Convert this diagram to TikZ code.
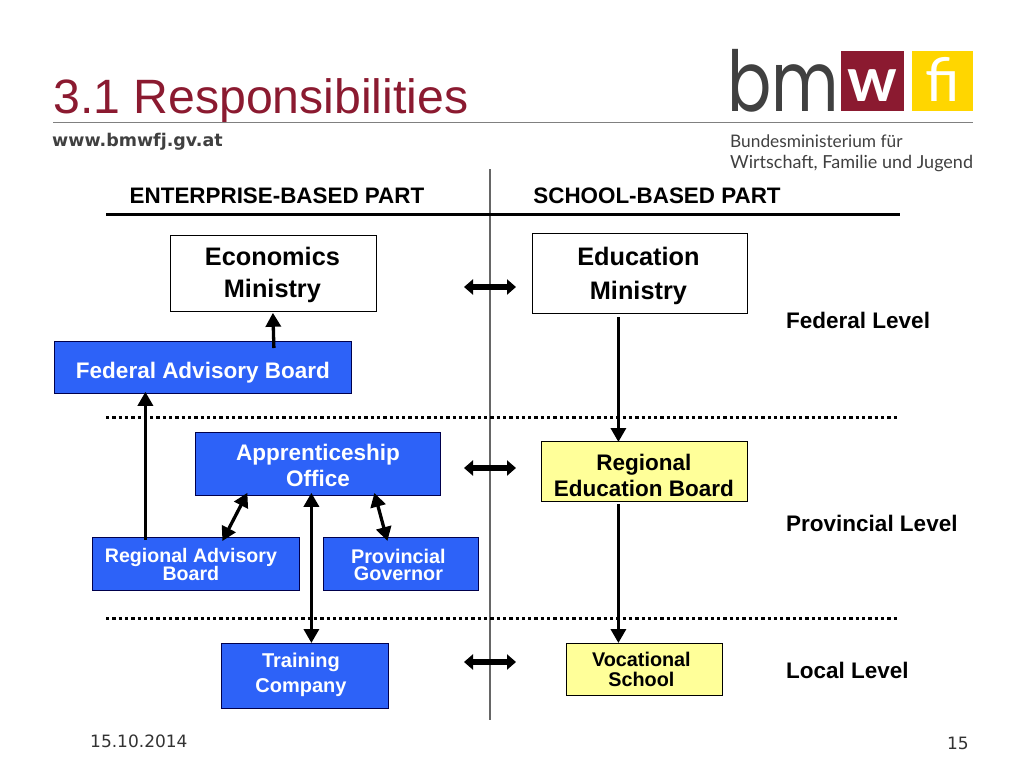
\documentclass[tikz,border=0pt]{standalone}
\usepackage{fontspec}
\setmainfont{Liberation Sans}
\newfontfamily\dejavu{DejaVu Sans}
\newfontfamily\lato{Lato}
\newfontfamily\poppins{Poppins}
\usetikzlibrary{arrows.meta}
\definecolor{bmred}{RGB}{139,26,48}
\definecolor{bmyellow}{RGB}{255,214,0}
\definecolor{boxblue}{RGB}{45,98,248}
\definecolor{paleyellow}{RGB}{255,255,153}
\definecolor{logogrey}{RGB}{64,64,64}
% moves the text of a box away from its centre
\newcommand\nudge[3]{\makebox[0pt]{\kern#1\kern#1\raisebox{\dimexpr#2-0.25em\relax}[0pt][0pt]{\begin{tabular}{@{}c@{}}#3\end{tabular}}}}
\tikzset{
  box/.style={draw=#1,line width=0.8pt,anchor=north west,align=center,inner sep=0pt,font=\bfseries},
  whitebox/.style={box=black,fill=white,text=black},
  bluebox/.style={box=black!70!blue,fill=boxblue,text=white},
  yellowbox/.style={box=black,fill=paleyellow,text=black},
  flow/.style={line width=3.3pt,-{Triangle[length=14pt,width=15pt]}},
  both/.style={line width=3.3pt,{Triangle[length=14pt,width=15pt]}-{Triangle[length=14pt,width=15pt]}},
  cross/.style={line width=6.5pt,{Triangle[length=9pt,width=15pt]}-{Triangle[length=9pt,width=15pt]}},
  level/.style={font=\bfseries\fontsize{22.5}{26}\selectfont,anchor=west,inner sep=0pt},
  levelline/.style={line width=3pt,dash pattern=on 3.3pt off 3pt},
}
\begin{document}
\begin{tikzpicture}[x=1pt,y=-1pt]
\useasboundingbox[fill=white] (0,0) rectangle (1024,768);
% header
\node[anchor=base west,inner sep=0pt,text=bmred,font=\fontsize{48.2}{50}\selectfont] (title) at (53,113) {3.1 Responsibilities};
\draw[black!50,line width=1pt] (53,122.5) -- (973,122.5);
\node[anchor=base west,inner sep=0pt,text=black!75,font=\dejavu\bfseries\fontsize{17.5}{18}\selectfont] (web) at (52,146.5) {www.bmwfj.gv.at};
% logo
\node[anchor=base west,inner sep=0pt,text=logogrey,xscale=0.78,transform shape,font=\poppins\fontsize{84}{84}\selectfont] (bm) at (727,111) {bm};
\node[fill=bmred,anchor=north west,minimum width=62.5pt,minimum height=60pt,inner sep=0pt,text=white,font=\lato\bfseries\fontsize{62}{62}\selectfont] (logow) at (841,51) {\nudge{0pt}{1pt}{w}};
\node[fill=bmyellow,anchor=north west,minimum width=61pt,minimum height=60pt,inner sep=0pt,text=white,font=\lato\fontsize{60}{60}\selectfont] (logofi) at (912,51) {\nudge{0pt}{2pt}{f{}i}};
\node[anchor=base west,inner sep=0pt,text=logogrey,font=\lato\fontsize{17.3}{20}\selectfont] (ministry1) at (730,147) {Bundesministerium für};
\node[anchor=base west,inner sep=0pt,text=logogrey,font=\lato\fontsize{18}{20}\selectfont] (ministry2) at (730,168) {Wirtschaft, Familie und Jugend};
% columns
\draw[black!60,line width=1.2pt] (490,169) -- (490,720);
\draw[line width=3pt] (106,214) -- (900,214);
\node[anchor=base,inner sep=0pt,font=\bfseries\fontsize{22.4}{26}\selectfont] (enterprise) at (277,203.5) {ENTERPRISE-BASED PART};
\node[anchor=base,inner sep=0pt,font=\bfseries\fontsize{22.4}{26}\selectfont] (school) at (657,203.5) {SCHOOL-BASED PART};
% level separators
\draw[levelline] (106,417) -- (898,417);
\draw[levelline] (106,618) -- (898,618);
% boxes
\node[whitebox,minimum width=206pt,minimum height=76pt,font=\bfseries\fontsize{25.3}{32}\selectfont] (economics) at (170,235) {\nudge{-1pt}{-2pt}{Economics\\Ministry}};
\node[whitebox,minimum width=215pt,minimum height=80pt,font=\bfseries\fontsize{25.3}{34}\selectfont] (education) at (532,233) {\nudge{-1.5pt}{-2pt}{Education\\Ministry}};
\node[bluebox,minimum width=297pt,minimum height=52pt,font=\bfseries\fontsize{22.5}{26}\selectfont] (federal) at (54,341) {\nudge{0pt}{-5.5pt}{Federal Advisory Board}};
\node[bluebox,minimum width=245pt,minimum height=63pt,font=\bfseries\fontsize{22.5}{26}\selectfont] (office) at (195,432) {\nudge{0pt}{-3.5pt}{Apprenticeship\\Office}};
\node[yellowbox,minimum width=206pt,minimum height=60pt,font=\bfseries\fontsize{22.5}{26}\selectfont] (regboard) at (541,441) {\nudge{-0.5pt}{-6pt}{Regional\\Education Board}};
\node[bluebox,minimum width=207pt,minimum height=53pt,font=\bfseries\fontsize{19.6}{18}\selectfont] (regadvisory) at (92,537) {\nudge{-5pt}{-3.5pt}{Regional Advisory\\[-2pt]Board}};
\node[bluebox,minimum width=155pt,minimum height=53pt,font=\bfseries\fontsize{19.8}{18}\selectfont] (governor) at (323,537) {\nudge{-2.5pt}{-3.5pt}{Provincial\\[-2pt]Governor}};
\node[bluebox,minimum width=167pt,minimum height=65pt,font=\bfseries\fontsize{20}{25}\selectfont] (company) at (221,643) {\nudge{-4pt}{1pt}{Training\\Company}};
\node[yellowbox,minimum width=156pt,minimum height=52pt,font=\bfseries\fontsize{19.8}{20}\selectfont] (vocational) at (566,643) {\nudge{-3pt}{-3pt}{Vocational\\[-1pt]School}};
% level labels
\node[level] (federallevel) at (786,320.5) {Federal Level};
\node[level] (provlevel) at (786,523) {Provincial Level};
\node[level] (locallevel) at (786,670) {Local Level};
% arrows inside a column
\draw[flow] ([xshift=71pt,yshift=-7pt]federal.north) -- ([xshift=-0.5pt,yshift=-1pt]economics.south);
\draw[flow] ([xshift=-50.5pt,yshift=-3pt]regadvisory.north) -- ([xshift=-57.5pt,yshift=2pt]federal.south);
\draw[flow] ([xshift=-21.5pt,yshift=-3pt]education.south) -- ([xshift=-26pt,yshift=-1pt]regboard.north);
\draw[flow] ([xshift=-26pt,yshift=-2pt]regboard.south) -- ([xshift=-26pt]vocational.north);
\draw[both] ([xshift=-70.5pt,yshift=3pt]office.south) -- ([xshift=26.5pt,yshift=-4pt]regadvisory.north);
\draw[both] ([xshift=56.5pt,yshift=3pt]office.south) -- ([xshift=-13.5pt,yshift=-4pt]governor.north);
\draw[both] ([xshift=-6.5pt,yshift=3pt]office.south) -- ([xshift=6.5pt]company.north);
% arrows across the columns
\coordinate (crossAl) at (464,287);
\coordinate (crossAr) at (516,287);
\coordinate (crossBl) at (464,468);
\coordinate (crossBr) at (516,468);
\coordinate (crossCl) at (464,662);
\coordinate (crossCr) at (516,662);
\draw[cross] (crossAl) -- (crossAr);
\draw[cross] (crossBl) -- (crossBr);
\draw[cross] (crossCl) -- (crossCr);
% footer
\node[anchor=base west,inner sep=0pt,text=black!80,font=\dejavu\fontsize{17}{18}\selectfont] (date) at (90,747.5) {15.10.2014};
\node[anchor=base east,inner sep=0pt,text=black!80,font=\dejavu\fontsize{17}{18}\selectfont] (page) at (969,749.5) {15};
\end{tikzpicture}
\end{document}
